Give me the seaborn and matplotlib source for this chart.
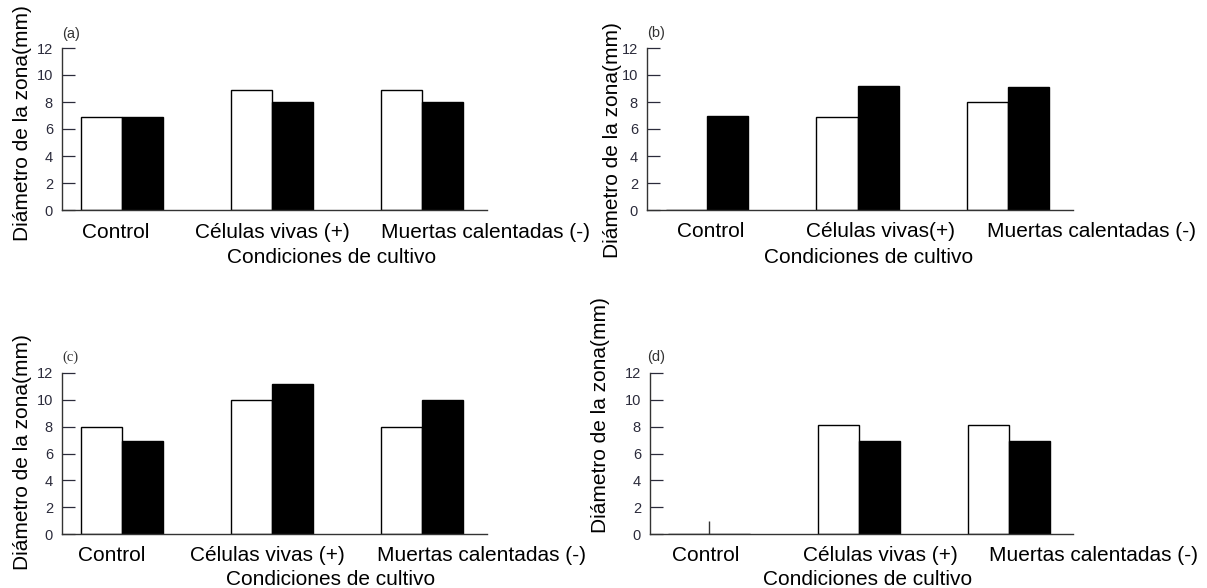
import matplotlib
matplotlib.use("Agg")
import matplotlib.pyplot as plt
import matplotlib.transforms as mtransforms
import pandas as pd
import seaborn as sns

# ---------------- data ----------------
categorias = ["Control", "Células vivas (+)", "Muertas calentadas (-)"]
etiquetas_a = ["Control", "Células vivas (+)", "Muertas calentadas (-)"]
etiquetas_b = ["Control", "Células vivas(+)", "Muertas calentadas (-)"]
etiquetas_c = ["Control", "Células vivas (+)", "Muertas calentadas (-)"]
etiquetas_d = ["Control", "Células vivas (+)", "Muertas calentadas (-)"]
series = ["blanco", "negro"]

a_blanco = [6.9, 8.9, 8.9]
a_negro = [6.9, 8.0, 8.0]
b_blanco = [0.0, 6.9, 8.0]
b_negro = [7.0, 9.2, 9.1]
c_blanco = [8.0, 10.0, 8.0]
c_negro = [6.9, 11.2, 10.0]
d_blanco = [0.0, 8.1, 8.1]
d_negro = [0.0, 6.9, 6.9]
d_control_marca = [1.0]   # thin mark drawn at "Control" in panel (d)

y_ticks = [0, 2, 4, 6, 8, 10, 12]
letras = ["(a)", "(b)", "(c)", "(d)"]
xlabel_txt = "Condiciones de cultivo"
ylabel_txt = "Diámetro de la zona(mm)"

# ---------------- style ----------------
sns.set_style("ticks")
plt.rcParams["font.family"] = ["Liberation Sans", "DejaVu Sans"]

W, H = 1207, 588
fig = plt.figure(figsize=(W / 100, H / 100), dpi=100)


def make_axes(L, R, T, B):
    return fig.add_axes([L / W, 1 - B / H, (R - L) / W, (B - T) / H])


paneles = [
    dict(datos=(a_blanco, a_negro), etiq=etiquetas_a, box=(62, 487, 48, 210),
         xlim=(-0.40, 2.433), labx=[-0.04, 1.0, 1.727], laby=-0.173,
         xl=(0.635, -0.327), yl=(-0.092, 0.537), letra=(0.0, 1.086),
         letra_font="Liberation Sans"),
    dict(datos=(b_blanco, b_negro), etiq=etiquetas_b, box=(647, 1073, 48, 210),
         xlim=(-0.399, 2.432), labx=[0.027, 1.156, 1.86], laby=-0.167,
         xl=(0.519, -0.327), yl=(-0.082, 0.432), letra=(0.0, 1.093),
         letra_font="Liberation Sans"),
    dict(datos=(c_blanco, c_negro), etiq=etiquetas_c, box=(62, 487, 373, 534),
         xlim=(-0.40, 2.433), labx=[-0.067, 0.967, 1.70], laby=-0.168,
         xl=(0.633, -0.317), yl=(-0.092, 0.509), letra=(0.002, 1.099),
         letra_font="Liberation Serif"),
    dict(datos=(d_blanco, d_negro), etiq=etiquetas_d, box=(650, 1073, 373, 534),
         xlim=(-0.393, 2.427), labx=[-0.02, 1.14, 1.87], laby=-0.168,
         xl=(0.515, -0.317), yl=(-0.118, 0.739), letra=(-0.007, 1.099),
         letra_font="Liberation Sans"),
]

paleta = {"blanco": "white", "negro": "black"}

for i, p in enumerate(paneles):
    ax = make_axes(*p["box"])
    blanco, negro = p["datos"]
    df = pd.DataFrame({
        "cond": categorias * 2,
        "serie": [series[0]] * 3 + [series[1]] * 3,
        "valor": list(blanco) + list(negro),
    })
    sns.barplot(data=df, x="cond", y="valor", hue="serie", order=categorias,
                hue_order=series, palette=paleta, saturation=1,
                edgecolor="black", linewidth=1.0, width=0.55,
                errorbar=None, legend=False, ax=ax)
    if i == 3:
        ax.vlines([0], 0, d_control_marca, colors="#333333", linewidth=1.0)

    ax.set_xlim(*p["xlim"])
    ax.set_ylim(0, 12)
    ax.set_yticks(y_ticks)
    ax.set_xlabel("")
    ax.set_ylabel("")
    sns.despine(ax=ax)
    for s in ("left", "bottom"):
        ax.spines[s].set_color("#333333")
        ax.spines[s].set_linewidth(1.0)
    ax.tick_params(axis="y", direction="in", length=9, width=0.9, pad=6.5,
                   labelsize=10.5, colors="#2b2b3b")
    ax.tick_params(axis="x", length=0, labelbottom=False)

    trans = mtransforms.blended_transform_factory(ax.transData, ax.transAxes)
    for j, lab in enumerate(p["etiq"]):
        ax.text(p["labx"][j], p["laby"], lab, transform=trans,
                ha="left" if j == 2 else "center", va="baseline",
                fontsize=15, color="black")
    ax.text(p["xl"][0], p["xl"][1], xlabel_txt, transform=ax.transAxes,
            ha="center", va="baseline", fontsize=15, color="black")
    ax.text(p["yl"][0], p["yl"][1], ylabel_txt, transform=ax.transAxes,
            rotation=90, ha="center", va="center", fontsize=15, color="black")
    ax.text(p["letra"][0], p["letra"][1], letras[i], transform=ax.transAxes,
            ha="left", va="center", fontsize=10.5, color="#333333",
            family=p["letra_font"])

fig.savefig("out.png", dpi=100, facecolor="white")
